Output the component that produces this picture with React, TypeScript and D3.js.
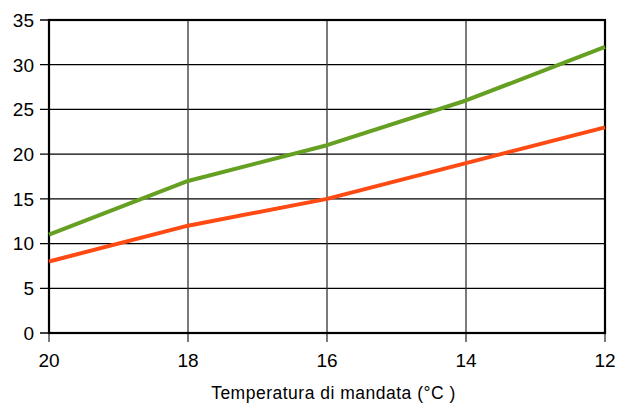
import React from "react";
import * as d3 from "d3";

const temps = [20, 18, 16, 14, 12];
const greenValues = [11, 17, 21, 26, 32];
const redValues = [8, 12, 15, 19, 23];
const yTicks = [0, 5, 10, 15, 20, 25, 30, 35];
const xTicks = [20, 18, 16, 14, 12];
const xTitle = "Temperatura di mandata (°C )";

export default function App() {
  const W = 633, H = 405;
  const left = 49, right = 605, top = 20, bottom = 333;
  const x = d3.scaleLinear().domain([20, 12]).range([left, right]);
  const y = d3.scaleLinear().domain([0, 35]).range([bottom, top]);
  const line = d3.line<number>().x((_, i) => x(temps[i])).y((v) => y(v));
  const font = "'Liberation Sans', Arial, sans-serif";
  return (
    <svg width={W} height={H} style={{ position: "absolute", left: 0, top: 0 }} fontFamily={font}>
      {yTicks.map((t) => (
        <g key={"y" + t}>
          <line x1={left - 9} x2={right} y1={y(t)} y2={y(t)} stroke="#000" strokeWidth={1.3} />
          <text x={34} y={y(t)} dy="0.36em" textAnchor="end" fontSize={19} fill="#000">{t}</text>
        </g>
      ))}
      {xTicks.map((t) => (
        <g key={"x" + t}>
          <line x1={x(t)} x2={x(t)} y1={top} y2={bottom + 9} stroke="#333" strokeWidth={1.3} />
          <text x={x(t)} y={366.5} textAnchor="middle" fontSize={19} fill="#000">{t}</text>
        </g>
      ))}
      <rect x={left} y={top} width={right - left} height={bottom - top} fill="none" stroke="#000" strokeWidth={2.2} />
      <path d={line(greenValues) || ""} fill="none" stroke="#66a022" strokeWidth={4} strokeLinejoin="round" />
      <path d={line(redValues) || ""} fill="none" stroke="#ff4a14" strokeWidth={4} strokeLinejoin="round" />
      <text x={333.5} y={398.5} textAnchor="middle" fontSize={17.5} letterSpacing={0.5} fill="#000">{xTitle}</text>
    </svg>
  );
}
